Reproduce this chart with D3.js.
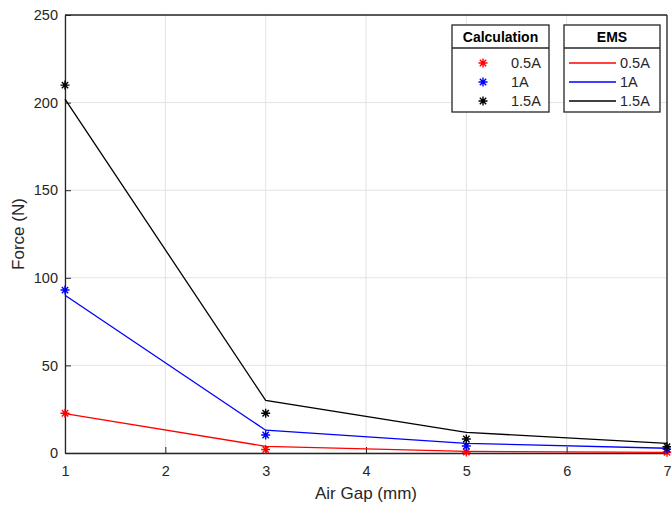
<!DOCTYPE html>
<html><head><meta charset="utf-8">
<script src="https://cdn.jsdelivr.net/npm/d3@7"></script>
<style>body{margin:0;background:#fff}svg{display:block}text{font-family:"Liberation Sans",Arial,Helvetica,sans-serif}</style>
</head><body><svg id="c" width="671" height="508"></svg>
<script>
const airGap = [1, 3, 5, 7];
const currents = ["0.5A", "1A", "1.5A"];
const colors = ["#ff0000", "#0000ff", "#000000"];
const calc05 = [22.7, 2, 0.6, 0.4];
const calc10 = [93, 10.3, 4, 2.2];
const calc15 = [210, 22.7, 8, 3.6];
const ems05 = [22.5, 3.8, 0.9, 0.4];
const ems10 = [90, 13, 5.5, 2.7];
const ems15 = [202, 30, 11.8, 5.5];
const xTicks = [1, 2, 3, 4, 5, 6, 7];
const yTicks = [0, 50, 100, 150, 200, 250];

const calcSeries = [calc05, calc10, calc15];
const emsSeries = [ems05, ems10, ems15];

const svg = d3.select("#c");
const L = 65, R = 667, T = 15, B = 453;
const x = d3.scaleLinear().domain([1, 7]).range([L, R]);
const y = d3.scaleLinear().domain([0, 250]).range([B, T]);
const axisCol = "#262626";

// grid
svg.append("g").selectAll("line").data(xTicks).join("line")
  .attr("x1", d => x(d)).attr("x2", d => x(d)).attr("y1", T).attr("y2", B)
  .attr("stroke", "#e3e3e3").attr("stroke-width", 1);
svg.append("g").selectAll("line").data(yTicks).join("line")
  .attr("x1", L).attr("x2", R).attr("y1", d => y(d)).attr("y2", d => y(d))
  .attr("stroke", "#e3e3e3").attr("stroke-width", 1);

// axes
const fmt = d3.format("d");
const xAxis = d3.axisBottom(x).tickValues(xTicks).tickFormat(fmt).tickSizeInner(-6).tickSizeOuter(0).tickPadding(13);
const yAxis = d3.axisLeft(y).tickValues(yTicks).tickFormat(fmt).tickSizeInner(-6).tickSizeOuter(0).tickPadding(7);
const gx = svg.append("g").attr("transform", `translate(0,${B})`).call(xAxis);
const gy = svg.append("g").attr("transform", `translate(${L},0)`).call(yAxis);
[gx, gy].forEach(g => {
  g.select(".domain").attr("stroke", axisCol).attr("stroke-width", 1.3);
  g.selectAll(".tick line").attr("stroke", axisCol);
  g.selectAll(".tick text").attr("fill", axisCol).attr("font-size", 14.5)
   .style("font-family", '"Liberation Sans",Arial,sans-serif');
});
// top & right box lines
svg.append("line").attr("x1", L).attr("x2", R).attr("y1", T).attr("y2", T).attr("stroke", axisCol).attr("stroke-width", 1.3);
svg.append("line").attr("x1", R).attr("x2", R).attr("y1", T).attr("y2", B).attr("stroke", axisCol).attr("stroke-width", 1.3);

// lines
const line = d3.line().x((d, i) => x(airGap[i])).y(d => y(d));
emsSeries.forEach((s, k) => {
  svg.append("path").datum(s).attr("d", line).attr("fill", "none")
    .attr("stroke", colors[k]).attr("stroke-width", 1.3);
});

// asterisk marker
function star(g, cx, cy, col) {
  const r = 4.5, d = r * 0.7071;
  g.append("path")
    .attr("d", `M${cx - r},${cy}L${cx + r},${cy}M${cx},${cy - r}L${cx},${cy + r}M${cx - d},${cy - d}L${cx + d},${cy + d}M${cx - d},${cy + d}L${cx + d},${cy - d}`)
    .attr("stroke", col).attr("stroke-width", 1.4).attr("fill", "none");
}
const mg = svg.append("g");
calcSeries.forEach((s, k) => {
  s.forEach((v, i) => star(mg, x(airGap[i]), y(v), colors[k]));
});

// axis labels
svg.append("text").attr("x", 366).attr("y", 499).attr("text-anchor", "middle")
  .attr("font-size", 17).attr("fill", axisCol).text("Air Gap (mm)");
svg.append("text").attr("transform", `translate(24,${(T + B) / 2}) rotate(-90)`).attr("text-anchor", "middle")
  .attr("font-size", 17).attr("fill", axisCol).text("Force (N)");

// legends
function legend(x0, x1, title, kind) {
  const g = svg.append("g");
  const y0 = 25, y1 = 112, yd = 48;
  g.append("rect").attr("x", x0).attr("y", y0).attr("width", x1 - x0).attr("height", y1 - y0)
    .attr("fill", "#fff").attr("stroke", axisCol).attr("stroke-width", 1.3);
  g.append("line").attr("x1", x0).attr("x2", x1).attr("y1", yd).attr("y2", yd)
    .attr("stroke", axisCol).attr("stroke-width", 1.3);
  g.append("text").attr("x", (x0 + x1) / 2).attr("y", 42).attr("text-anchor", "middle")
    .attr("font-size", 14).attr("font-weight", "bold").attr("fill", "#000").text(title);
  const rows = [63, 82, 101];
  currents.forEach((c, k) => {
    if (kind === "star") {
      star(g, x0 + 31, rows[k], colors[k]);
      g.append("text").attr("x", x0 + 59).attr("y", rows[k] + 5).attr("font-size", 14.5).attr("fill", axisCol).text(c);
    } else {
      g.append("line").attr("x1", x0 + 5).attr("x2", x0 + 52).attr("y1", rows[k]).attr("y2", rows[k])
        .attr("stroke", colors[k]).attr("stroke-width", 1.3);
      g.append("text").attr("x", x0 + 56).attr("y", rows[k] + 5).attr("font-size", 14.5).attr("fill", axisCol).text(c);
    }
  });
}
legend(452, 549, "Calculation", "star");
legend(564, 660, "EMS", "line");
</script></body></html>
